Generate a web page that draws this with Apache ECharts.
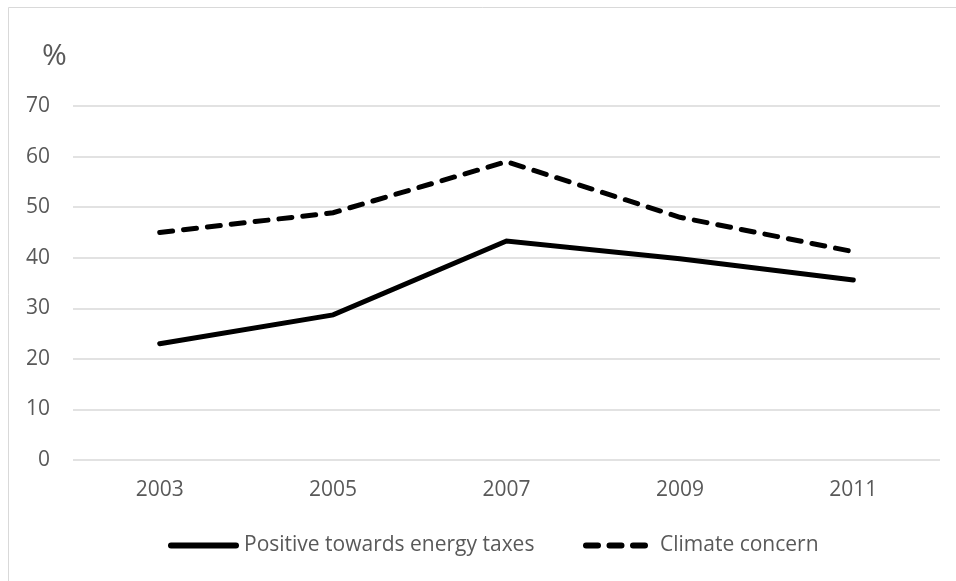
<!DOCTYPE html>
<html>
<head>
<meta charset="utf-8">
<script src="https://cdn.jsdelivr.net/npm/echarts@6/dist/echarts.min.js"></script>
<style>
  html, body { margin: 0; padding: 0; background: #fff; }
  #chart { width: 956px; height: 581px; }
</style>
</head>
<body>
<div id="chart"></div>
<script>
// Survey years
const years = ['2003', '2005', '2007', '2009', '2011'];
// Share of respondents (%)
const energyTaxes = [23, 28.7, 43.3, 39.8, 35.6];
const climateConcern = [45, 48.9, 59, 48, 41.2];
// Value axis ticks
const yMin = 0, yMax = 70, yStep = 10;

const textColor = '#595959';
const fontFamily = '"Open Sans", "Liberation Sans", sans-serif';
const labelSize = 21;

// Legend glyphs: a solid capsule and three short dashes
function capsule(a, b) {
  return `M${a + 3},0 L${b - 3},0 A3,3 0 0 1 ${b - 3},6 L${a + 3},6 A3,3 0 0 1 ${a + 3},0 Z `;
}
const solidIcon = 'path://' + capsule(0, 71);
const dashedIcon = 'path://' + capsule(0, 18) + capsule(23.5, 41.5) + capsule(47, 65);

const chart = echarts.init(document.getElementById('chart'), null, { renderer: 'canvas' });

chart.setOption({
  animation: false,
  backgroundColor: '#ffffff',
  graphic: [{
    type: 'rect',
    shape: { x: 8.5, y: 7.5, width: 960, height: 600 },
    style: { fill: 'none', stroke: '#d9d9d9', lineWidth: 1 },
    silent: true
  }],
  title: {
    text: '%',
    left: 37,
    top: 36,
    textStyle: { color: textColor, fontSize: 30, fontWeight: 'normal', fontFamily }
  },
  grid: { left: 73, right: 16, top: 106, bottom: 121 },
  xAxis: {
    type: 'category',
    data: years,
    boundaryGap: true,
    axisLine: { show: false },
    axisTick: { show: false },
    axisLabel: { color: textColor, fontSize: labelSize, fontFamily, margin: 20 }
  },
  yAxis: {
    type: 'value',
    min: yMin,
    max: yMax,
    interval: yStep,
    axisLine: { show: false },
    axisTick: { show: false },
    axisLabel: { color: textColor, fontSize: labelSize, fontFamily, margin: 23 },
    splitLine: { lineStyle: { color: '#d9d9d9', width: 1.5 } }
  },
  legend: [{
    data: ['Positive towards energy taxes'],
    left: 168,
    top: 535,
    padding: 0,
    itemWidth: 71,
    itemHeight: 6,
    itemGap: 0,
    icon: solidIcon,
    itemStyle: { color: '#000' },
    textStyle: { color: textColor, fontSize: labelSize, fontFamily, padding: [0, 0, 0, 0] }
  }, {
    data: ['Climate concern'],
    left: 583,
    top: 535,
    padding: 0,
    itemWidth: 65,
    itemHeight: 6,
    itemGap: 0,
    icon: dashedIcon,
    itemStyle: { color: '#000' },
    textStyle: { color: textColor, fontSize: labelSize, fontFamily, padding: [0, 0, 0, 7] }
  }],
  series: [{
    name: 'Positive towards energy taxes',
    type: 'line',
    data: energyTaxes,
    symbol: 'none',
    lineStyle: { color: '#000', width: 5, cap: 'round', join: 'miter' },
    itemStyle: { color: '#000' }
  }, {
    name: 'Climate concern',
    type: 'line',
    data: climateConcern,
    symbol: 'none',
    lineStyle: { color: '#000', width: 5, type: [13, 11], cap: 'round', join: 'miter' },
    itemStyle: { color: '#000' }
  }]
});
</script>
</body>
</html>
